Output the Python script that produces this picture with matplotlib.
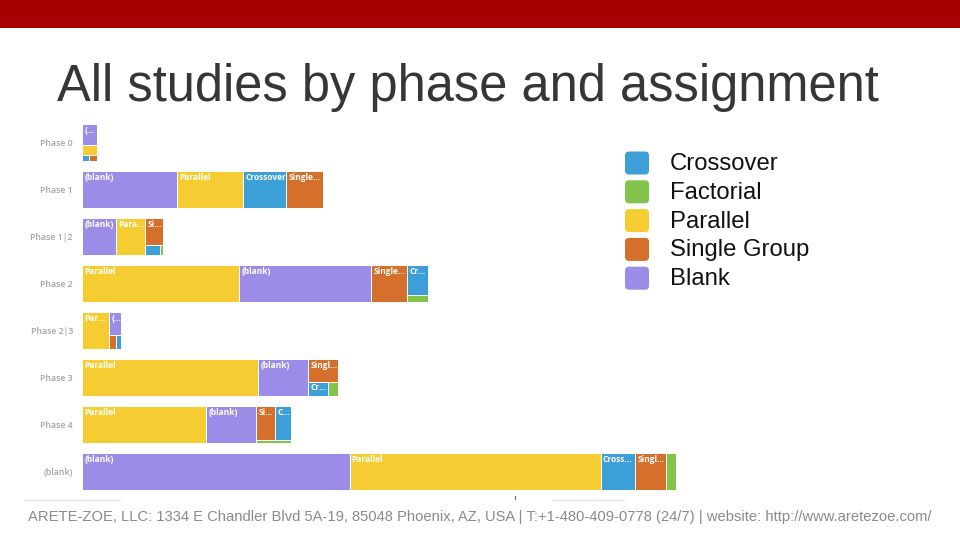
import matplotlib
matplotlib.use('Agg')
import matplotlib.pyplot as plt
from matplotlib.patches import Rectangle, FancyBboxPatch

# rows of the chart (top to bottom)
phases = ['Phase 0', 'Phase 1', 'Phase 1|2', 'Phase 2', 'Phase 2|3', 'Phase 3', 'Phase 4', '(blank)']

# legend names / names written in the tiles
assignments = ['Crossover', 'Factorial', 'Parallel', 'Single Group', 'Blank']
tile_names = ['Crossover', 'Factorial', 'Parallel', 'Single Group', '(blank)']
colors = ['#3d9fd8', '#82c44a', '#f5cd33', '#d4702b', '#9b8ce8']

# estimated number of studies per phase (read from tile areas)
crossover    = [11, 430, 40, 166, 18, 77, 150, 347]
factorial    = [0, 17, 8, 37, 0, 39, 29, 106]
parallel     = [41, 657, 290, 1574, 273, 1764, 1240, 2510]
single_group = [11, 366, 125, 360, 26, 180, 175, 304]
blank        = [82, 953, 343, 1320, 70, 496, 500, 2675]

series = [crossover, factorial, parallel, single_group, blank]

PHI = (1 + 5 ** 0.5) / 2
row_h = 370      # row height, same units as counts (10 units = 1 px)
row_step = 470
row_top0 = 50


def squarify(items, x0, y0, x1, y1, ratio=PHI):
    # same idea as d3.treemapSquarify (golden ratio target)
    rects = []
    value = sum(v for _, _, v in items)
    i0, n = 0, len(items)
    while i0 < n:
        dx, dy = x1 - x0, y1 - y0
        i1 = i0
        s = items[i1][2]
        i1 += 1
        vmin = vmax = s
        alpha = max(dy / dx, dx / dy) / (value * ratio)
        beta = s * s * alpha
        best = max(vmax / beta, beta / vmin)
        while i1 < n:
            v = items[i1][2]
            s2 = s + v
            mn, mx = min(vmin, v), max(vmax, v)
            beta = s2 * s2 * alpha
            r = max(mx / beta, beta / mn)
            if r > best:
                break
            s, vmin, vmax, best = s2, mn, mx, r
            i1 += 1
        row = items[i0:i1]
        if dx < dy:
            h = dy * s / value
            x = x0
            for k, name, v in row:
                w = dx * v / s
                rects.append((k, x, y0, w, h))
                x += w
            y0 += h
        else:
            w = dx * s / value
            y = y0
            for k, name, v in row:
                h = dy * v / s
                rects.append((k, x0, y, w, h))
                y += h
            x0 += w
        value -= s
        i0 = i1
    return rects


fig = plt.figure(figsize=(9.6, 5.4), dpi=100)
fig.patch.set_facecolor('white')

# slide decorations in pixel coordinates
bg = fig.add_axes([0, 0, 1, 1], zorder=0)
bg.set_xlim(0, 960)
bg.set_ylim(540, 0)
bg.axis('off')
bg.add_patch(Rectangle((0, 0), 960, 28, color='#a80000', lw=0))
bg.plot([24, 120], [499.5, 499.5], color='#e3e3e3', lw=0.8)
bg.plot([552, 624], [499.5, 499.5], color='#e3e3e3', lw=0.8)
bg.plot([515, 515], [496, 499], color='#666666', lw=0.8)

# legend
for i, (name, c) in enumerate(zip(assignments, colors)):
    yc = 163 + i * 28.8
    bg.add_patch(FancyBboxPatch((626, yc - 10.5), 22, 21,
                                boxstyle='round,pad=1,rounding_size=4',
                                fc=c, ec='none'))
    bg.text(670, yc + 1, name, fontsize=17.2, family=['Liberation Sans', 'DejaVu Sans'],
            color='#111111', va='center', ha='left')

renderer = fig.canvas.get_renderer()


def fit_text(x, y, s, width, **kw):
    t = bg.text(x, y, s, **kw)
    fs = t.get_fontsize()
    w = t.get_window_extent(renderer).width
    t.set_fontsize(fs * width / w)
    return t


fit_text(57, 101, 'All studies by phase and assignment', 821, fontsize=38,
         family=['Liberation Sans Narrow', 'Liberation Sans'], color='#363636',
         va='baseline', ha='left')
fit_text(28, 521.5, 'ARETE-ZOE, LLC: 1334 E Chandler Blvd 5A-19, 85048 Phoenix, AZ, USA | '
         'T:+1-480-409-0778 (24/7) | website: http://www.aretezoe.com/', 898, fontsize=11,
         family=['Liberation Sans Narrow', 'Liberation Sans'], color='#8a8a8a',
         va='baseline', ha='left')

# chart
ax = fig.add_axes([82 / 960, 45 / 540, 860 / 960, 376 / 540], zorder=1)
ax.set_xlim(0, 8600)
ax.set_ylim(3760, 0)
ax.patch.set_alpha(0)
for sp in ax.spines.values():
    sp.set_visible(False)
ax.set_xticks([])

centers = []
for r, phase in enumerate(phases):
    top = row_top0 + r * row_step
    centers.append(top + row_h / 2)
    items = [(k, tile_names[k], series[k][r]) for k in range(len(series)) if series[k][r] > 0]
    items = sorted(items, key=lambda it: -it[2])
    total = sum(v for _, _, v in items)
    for k, x, y, w, h in squarify(items, 0, top, total, top + row_h):
        rect = Rectangle((x, y), w, h, fc=colors[k], ec='white', lw=0.7)
        ax.add_patch(rect)
        wpx, hpx = w / 10, h / 10
        if hpx < 12 or wpx < 11:
            continue
        label = tile_names[k]
        t = ax.text(x + 22, y + 20, label, color='white', fontsize=6.0,
                    family=['Open Sans', 'DejaVu Sans'], fontweight='bold',
                    va='top', ha='left')
        t.set_clip_path(rect)
        kk = len(label)
        while t.get_window_extent(renderer).width > wpx - 2 and kk > 1:
            kk -= 1
            t.set_text(label[:kk].rstrip() + '\u2026')

ax.set_yticks(centers)
ax.set_yticklabels(phases, fontsize=6.3, color='#a3a3a3',
                   family=['Open Sans', 'DejaVu Sans'], fontweight='semibold')
ax.tick_params(axis='y', length=0, pad=6.5)

fig.savefig('out.png', dpi=100, facecolor='white')
